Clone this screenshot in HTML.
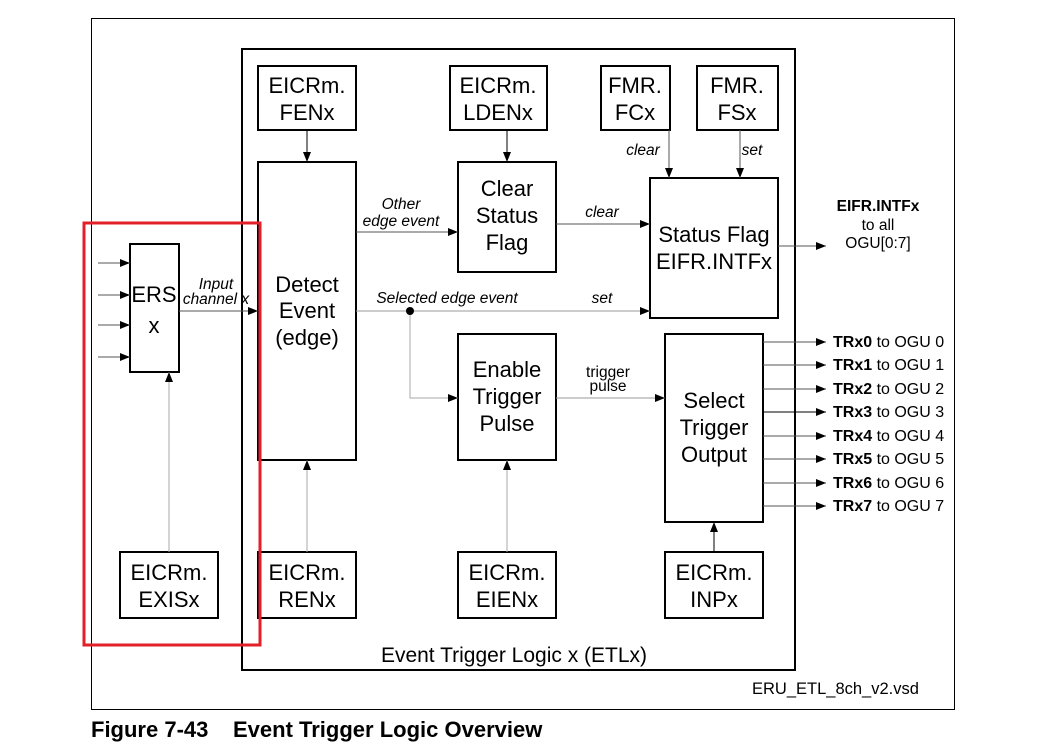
<!DOCTYPE html>
<html><head><meta charset="utf-8"><style>
html,body{margin:0;padding:0;background:#fff;}
svg{display:block;font-family:"Liberation Sans",Arial,sans-serif;}
</style></head><body>
<svg width="1046" height="746" viewBox="0 0 1046 746" xmlns="http://www.w3.org/2000/svg">
<defs>
<marker id="a" markerWidth="10" markerHeight="8" refX="10" refY="4" orient="auto" markerUnits="userSpaceOnUse"><path d="M0,0 L10,4 L0,8 Z" fill="#000"/></marker>
</defs>
<rect x="91.5" y="18.5" width="863" height="691" fill="none" stroke="#000" stroke-width="1"/>
<rect x="242" y="49" width="553" height="621" fill="none" stroke="#000" stroke-width="2"/>
<g fill="#fff" stroke="#000" stroke-width="2">
<rect x="130" y="244" width="49" height="128"/>
<rect x="120" y="552" width="98" height="66"/>
<rect x="258" y="66" width="98" height="64"/>
<rect x="258" y="162" width="98" height="298"/>
<rect x="258" y="552" width="98" height="66"/>
<rect x="450" y="66" width="97" height="64"/>
<rect x="458" y="162" width="98" height="110"/>
<rect x="601" y="66" width="69" height="64"/>
<rect x="697" y="66" width="81" height="64"/>
<rect x="650" y="178" width="128" height="140"/>
<rect x="458" y="334" width="98" height="126"/>
<rect x="458" y="552" width="98" height="66"/>
<rect x="665" y="334" width="98" height="188"/>
<rect x="665" y="552" width="98" height="66"/>
</g>
<rect x="84" y="223" width="176" height="422" fill="none" stroke="#e32028" stroke-width="3"/>
<g stroke="#555" stroke-width="1" fill="none" marker-end="url(#a)">
<line x1="98" y1="263" x2="130" y2="263"/>
<line x1="98" y1="295" x2="130" y2="295"/>
<line x1="98" y1="325" x2="130" y2="325"/>
<line x1="98" y1="357" x2="130" y2="357"/>
<line x1="179" y1="311" x2="258" y2="311"/>
<line x1="169" y1="552" x2="169" y2="372" stroke="#aaa"/>
<line x1="307" y1="130" x2="307" y2="162" stroke="#000"/>
<line x1="307" y1="552" x2="307" y2="460" stroke="#aaa"/>
<line x1="507" y1="130" x2="507" y2="162" stroke="#000"/>
<line x1="356" y1="232" x2="458" y2="232"/>
<line x1="556" y1="224" x2="650" y2="224"/>
<line x1="356" y1="311" x2="650" y2="311" stroke="#999"/>
<polyline points="410,311 410,398 458,398" stroke="#aaa"/>
<line x1="556" y1="398" x2="665" y2="398" stroke="#999"/>
<line x1="507" y1="552" x2="507" y2="460" stroke="#aaa"/>
<line x1="714" y1="552" x2="714" y2="522" stroke="#000"/>
<line x1="669" y1="130" x2="669" y2="178"/>
<line x1="740" y1="130" x2="740" y2="178"/>
<line x1="778" y1="246" x2="826" y2="246"/>
<line x1="763" y1="342" x2="826" y2="342"/>
<line x1="763" y1="365" x2="826" y2="365"/>
<line x1="763" y1="389" x2="826" y2="389"/>
<line x1="763" y1="412" x2="826" y2="412" stroke="#000"/>
<line x1="763" y1="436" x2="826" y2="436"/>
<line x1="763" y1="459" x2="826" y2="459"/>
<line x1="763" y1="483" x2="826" y2="483"/>
<line x1="763" y1="506" x2="826" y2="506"/>
</g>
<circle cx="410" cy="311" r="4" fill="#000"/>
<g font-size="22" text-anchor="middle" fill="#000">
<text x="154" y="302">ERS</text><text x="154" y="333">x</text>
<text x="169" y="580">EICRm.</text><text x="169" y="607">EXISx</text>
<text x="307" y="93">EICRm.</text><text x="307" y="120">FENx</text>
<text x="307" y="292">Detect</text><text x="307" y="318">Event</text><text x="307" y="345">(edge)</text>
<text x="307" y="580">EICRm.</text><text x="307" y="607">RENx</text>
<text x="498" y="93">EICRm.</text><text x="498" y="120">LDENx</text>
<text x="507" y="196">Clear</text><text x="507" y="223">Status</text><text x="507" y="250">Flag</text>
<text x="635" y="93">FMR.</text><text x="635" y="120">FCx</text>
<text x="737" y="93">FMR.</text><text x="737" y="120">FSx</text>
<text x="714" y="242">Status Flag</text><text x="714" y="269">EIFR.INTFx</text>
<text x="507" y="377">Enable</text><text x="507" y="404">Trigger</text><text x="507" y="431">Pulse</text>
<text x="507" y="580">EICRm.</text><text x="507" y="607">EIENx</text>
<text x="714" y="408">Select</text><text x="714" y="435">Trigger</text><text x="714" y="462">Output</text>
<text x="714" y="580">EICRm.</text><text x="714" y="607">INPx</text>
<text x="514" y="662" font-size="21">Event Trigger Logic x (ETLx)</text>
</g>
<g font-size="15.5" font-style="italic" text-anchor="middle">
<text x="216" y="289">Input</text><text x="216" y="304">channel x</text>
<text x="401" y="209">Other</text><text x="401" y="226">edge event</text>
<text x="447" y="303">Selected  edge event</text>
<text x="602" y="303">set</text>
<text x="602" y="217">clear</text>
<text x="643" y="155">clear</text>
<text x="752" y="155">set</text>
</g>
<g font-size="15.5" text-anchor="middle">
<text x="608" y="377">trigger</text><text x="608" y="391">pulse</text>
<text x="878" y="211" font-weight="bold">EIFR.INTFx</text>
<text x="878" y="230">to all</text>
<text x="878" y="248">OGU[0:7]</text>
</g>
<g font-size="16">
<text x="833" y="347"><tspan font-weight="bold">TRx0</tspan> to OGU 0</text>
<text x="833" y="370"><tspan font-weight="bold">TRx1</tspan> to OGU 1</text>
<text x="833" y="394"><tspan font-weight="bold">TRx2</tspan> to OGU 2</text>
<text x="833" y="417"><tspan font-weight="bold">TRx3</tspan> to OGU 3</text>
<text x="833" y="441"><tspan font-weight="bold">TRx4</tspan> to OGU 4</text>
<text x="833" y="464"><tspan font-weight="bold">TRx5</tspan> to OGU 5</text>
<text x="833" y="488"><tspan font-weight="bold">TRx6</tspan> to OGU 6</text>
<text x="833" y="511"><tspan font-weight="bold">TRx7</tspan> to OGU 7</text>
<text x="752" y="694" font-size="16.5">ERU_ETL_8ch_v2.vsd</text>
</g>
<text x="91" y="737" font-size="22" font-weight="bold">Figure 7-43<tspan x="233">Event Trigger Logic Overview</tspan></text>
</svg>
</body></html>
